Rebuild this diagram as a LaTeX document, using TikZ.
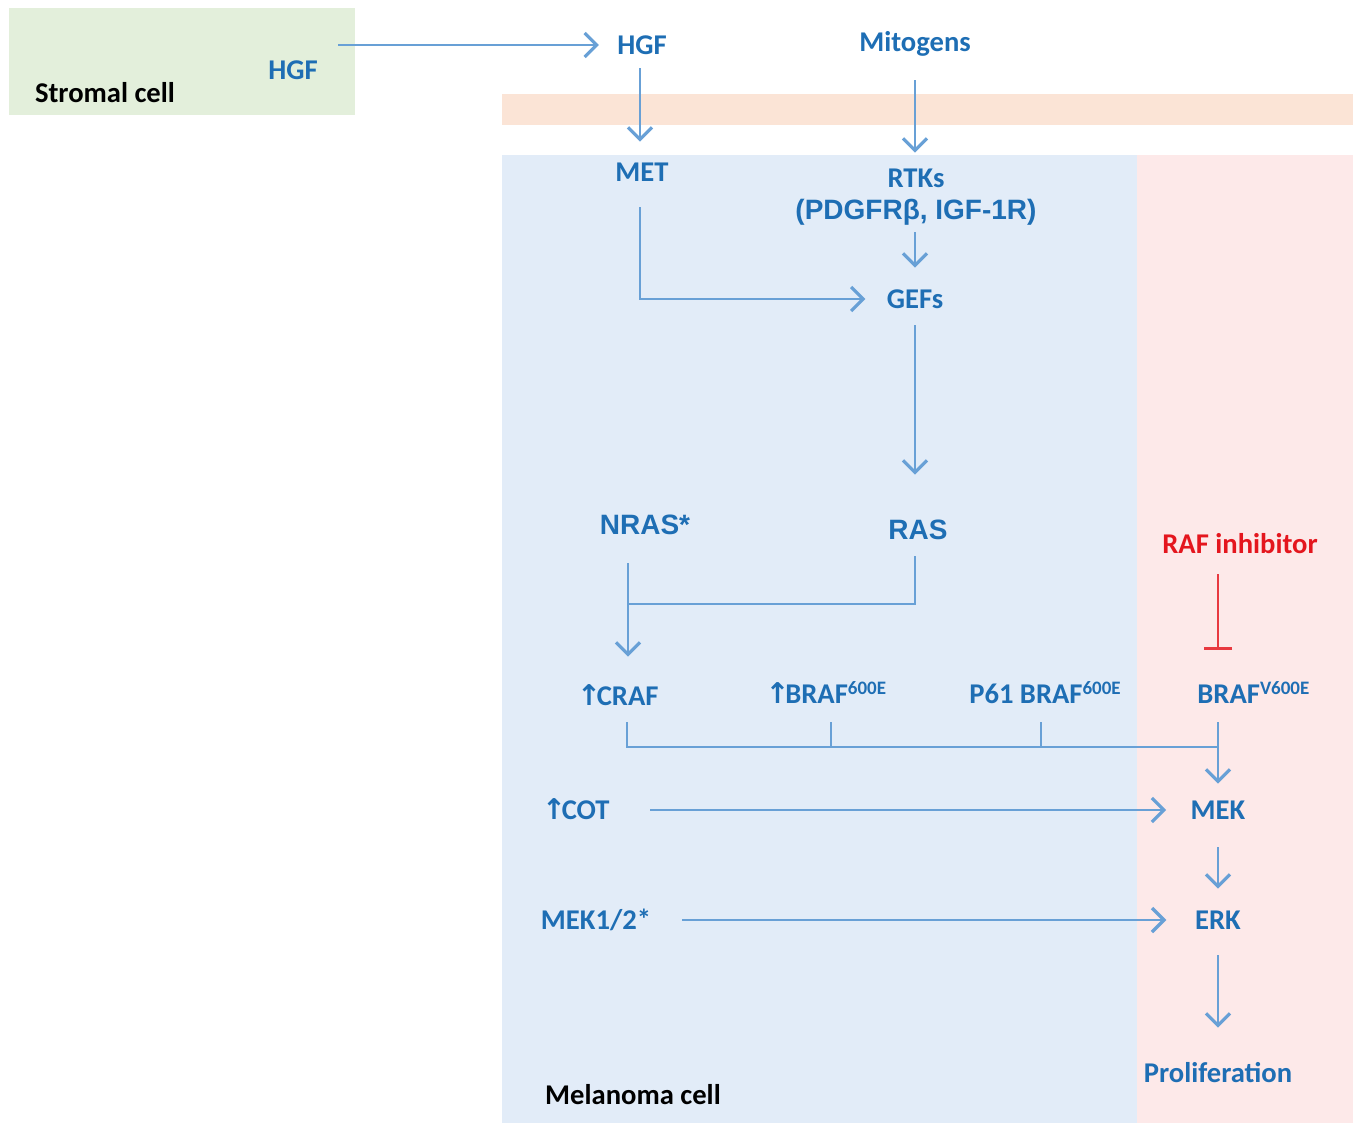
\documentclass[tikz,border=0pt]{standalone}
\usepackage{fontspec}
\setmainfont{Carlito}
\newfontfamily\arialfont{Liberation Sans}
\newfontfamily\symfont{DejaVu Sans}
\usetikzlibrary{arrows.meta}
\definecolor{sigblue}{RGB}{30,110,180}
\definecolor{linkblue}{RGB}{104,160,214}
\definecolor{cellblue}{RGB}{226,236,248}
\definecolor{cellpink}{RGB}{253,233,233}
\definecolor{membrane}{RGB}{251,228,214}
\definecolor{stroma}{RGB}{227,239,219}
\definecolor{inhibred}{RGB}{228,22,30}
\newcommand{\uparr}{{\symfont\bfseries\kern-0.15em↑\kern-0.15em}}
\newcommand{\mut}[1]{\raisebox{0.3em}{\fontsize{9.5}{10}\selectfont #1}}
\tikzstyle{protein} = [inner sep=0pt, 
text=sigblue, 
font=\fontsize{14.3}{16}\selectfont\bfseries, 
text height=9.2pt, 
text depth=0pt]
\tikzstyle{gene} = [protein, 
font=\fontsize{14}{16}\selectfont\arialfont\bfseries, 
text height=10pt]
\tikzstyle{cell} = [protein, text=black]
\tikzstyle{drug} = [protein, text=inhibred]
\tikzstyle{link} = [line width=1.2pt, draw=linkblue]
\tikzstyle{arrow} = [link, -{Straight Barb[length=6pt,width=12pt,line width=1.6pt]}]
\tikzstyle{block} = [line width=1.1pt, draw=inhibred!85, -{Bar[width=14pt]}]

\begin{document}
\begin{tikzpicture}[x=0.5pt, y=-0.5pt]
		\useasboundingbox (0,0) rectangle (1355,1123);
		\fill [stroma] (9,8) rectangle (355,115);
		\fill [membrane] (502,94) rectangle (1353,125);
		\fill [cellblue] (502,155) rectangle (1137,1123);
		\fill [cellpink] (1137,155) rectangle (1353,1123);
	
		\node (stromal) [cell] at (105,93) {Stromal cell};
		\node (hgfout) [protein] at (293,70) {HGF};
		\node (hgf) [protein] at (642,45) {HGF};
		\node (mito) [protein] at (915,42) {Mitogens};
		\node (met) [protein] at (642,172) {MET};
		\node (rtk) [protein] at (916,178) {RTKs};
		\node (rtkx) [gene] at (916,210) {(PDGFRβ, IGF-1R)};
		\node (gefs) [protein] at (915,299) {GEFs};
		\node (nras) [gene] at (645,524) {NRAS*};
		\node (ras) [gene] at (918,529) {RAS};
		\node (rafi) [drug] at (1240,544) {RAF inhibitor};
		\node (craf) [protein] at (620,696) {\uparr CRAF};
		\node (braf1) [protein] at (828,694) {\uparr BRAF\mut{600E}};
		\node (braf2) [protein] at (1045,694) {P61 BRAF\mut{600E}};
		\node (brafv) [protein, anchor=west] at (1197,694) {BRAF\mut{V600E}};
		\node (cot) [protein] at (578,810) {\uparr COT};
		\node (mek) [protein] at (1218,810) {MEK};
		\node (erk) [protein, below of=mek, node distance=55pt] {ERK};
		\node (mek12) [protein] at (596,920) {MEK1/2*};
		\node (prolif) [protein, below of=erk, node distance=76.5pt] {Proliferation};
		\node (melan) [cell] at (633,1095) {Melanoma cell};
	
		\coordinate (hgfsrc) at (338,45);
		\coordinate (rasjoin) at (628,604);
		\coordinate (bus) at (1218,747);
	
		\draw [arrow, shorten >=9pt] (hgfsrc) -- (hgf);
		\draw [arrow, shorten <=6.9pt, shorten >=10.4pt] ([xshift=-1pt]hgf.south) -- ([xshift=-1pt]met.north);
		\draw [arrow, shorten <=14.4pt, shorten >=7.9pt] (mito) -- ([xshift=-0.5pt]rtk.north);
		\draw [arrow, shorten <=6pt, shorten >=10.9pt] ([xshift=-0.5pt]rtkx.south) -- (gefs);
		\draw [arrow, shorten <=12.9pt, shorten >=10.5pt] ([xshift=-1pt]met.south) |- (gefs);
		\draw [arrow, shorten <=8.4pt, shorten >=22pt] (gefs) -- (gefs |- ras.north);
		\draw [arrow, shorten <=14.5pt, shorten >=14.9pt] ([xshift=-8.5pt]nras.south) -- ([xshift=4pt]craf.north);
		\draw [link, shorten <=8.5pt] (gefs |- ras.south) |- (rasjoin);
	
		\draw [link, shorten <=8.4pt] ([xshift=3.5pt]craf.south) |- (bus);
		\draw [link, shorten <=9.4pt] ([xshift=1.5pt]braf1.south) |- (bus);
		\draw [link, shorten <=9.4pt] ([xshift=-2pt]braf2.south) |- (bus);
		\draw [arrow, shorten <=9.4pt, shorten >=8.4pt] (brafv.south -| mek) -- (mek);
		\draw [block, shorten <=10.4pt, shorten >=17.4pt] (rafi.south -| mek) -- (brafv.north -| mek);
	
		\draw [arrow, shorten <=20pt, shorten >=12.1pt] (cot) -- (mek);
		\draw [arrow, shorten <=13.9pt, shorten >=10.9pt] (mek) -- (erk);
		\draw [arrow, shorten <=15.5pt, shorten >=14.25pt] (mek12) -- (erk);
		\draw [arrow, shorten <=12.9pt, shorten >=17.9pt] (erk) -- (prolif);
	\end{tikzpicture}
\end{document}
